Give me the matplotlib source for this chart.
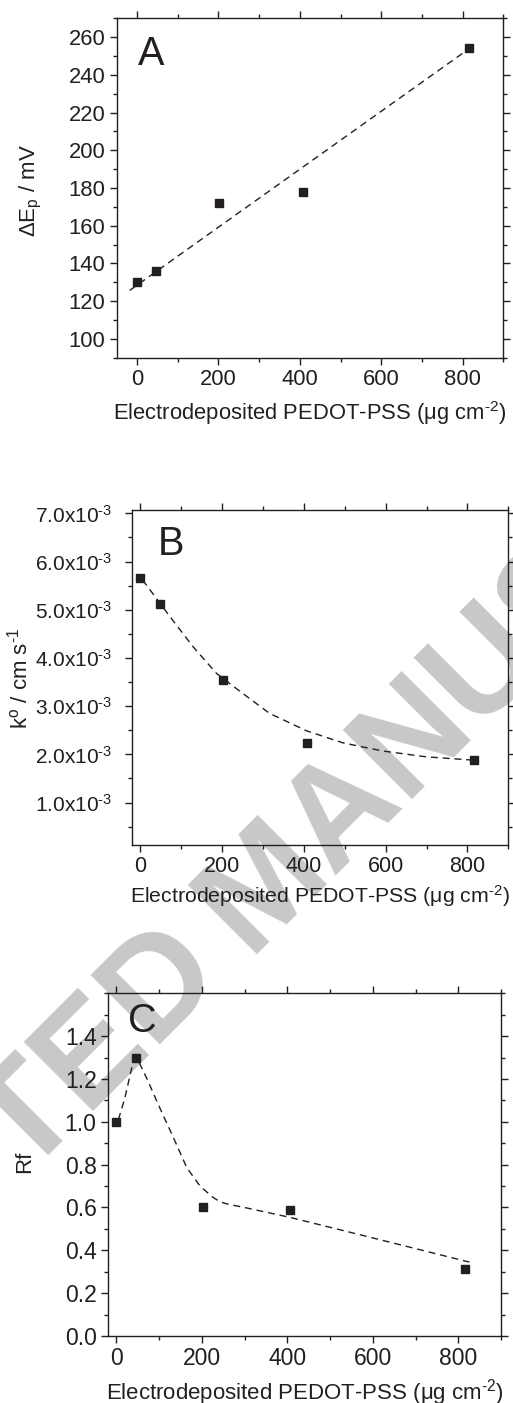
import matplotlib
matplotlib.use("Agg")
import matplotlib.pyplot as plt
from matplotlib.ticker import MultipleLocator, FuncFormatter

# PEDOT-PSS loading (ug cm-2)
loading = [0, 47, 202, 407, 815]

# peak separation (mV)
dEp = [130, 136, 172, 178, 254]
dEp_fit_x = [-18, 816]
dEp_fit_y = [125.7, 253.9]

# heterogeneous rate constant (cm s-1)
k0 = [5.66e-3, 5.12e-3, 3.55e-3, 2.23e-3, 1.88e-3]
k0_fit_x = [5, 28, 72, 129, 186, 251, 316, 406, 495, 593, 698, 815]
k0_fit_y = [5.62e-3, 5.36e-3, 4.86e-3, 4.23e-3, 3.68e-3, 3.26e-3, 2.85e-3,
            2.49e-3, 2.24e-3, 2.07e-3, 1.95e-3, 1.88e-3]

# roughness factor
rf = [1.00, 1.30, 0.60, 0.59, 0.315]
rf_fit_x = [5, 20, 36, 48, 72, 103, 134, 165, 196, 212, 226, 242, 260, 300,
            406, 600, 826]
rf_fit_y = [1.01, 1.11, 1.25, 1.30, 1.20, 1.06, 0.925, 0.786, 0.70, 0.672,
            0.648, 0.627, 0.616, 0.600, 0.554, 0.458, 0.345]

HY = "\u2010"  # plain hyphen for exponents
xlabel = f"Electrodeposited PEDOT-PSS (\u03bcg cm$^{{{HY}2}}$)"
INK = "#231f20"

plt.rcParams["font.family"] = ["Liberation Sans", "DejaVu Sans"]
plt.rcParams["mathtext.fontset"] = "custom"
plt.rcParams["mathtext.rm"] = "Liberation Sans"
plt.rcParams["mathtext.it"] = "Liberation Sans:italic"
plt.rcParams["mathtext.default"] = "regular"
plt.rcParams["text.color"] = INK

W, H = 513, 1403
fig = plt.figure(figsize=(W / 100, H / 100), dpi=100)


def add_panel(left, top, right, bottom, size):
    ax = fig.add_axes([left / W, 1 - bottom / H, (right - left) / W, (bottom - top) / H])
    ax.set_facecolor("none")
    for s in ax.spines.values():
        s.set_linewidth(1.0)
        s.set_color(INK)
    ax.tick_params(which="both", direction="out", top=True, right=True,
                   labeltop=False, labelright=False, colors=INK,
                   labelsize=size, width=1.0, pad=3)
    ax.tick_params(which="major", length=5)
    ax.tick_params(which="minor", length=2.8)
    return ax


def scatter_fit(ax, x, y, fx, fy):
    ax.plot(fx, fy, ls=(0, (5, 3.5)), lw=1.0, color=INK, zorder=2)
    ax.plot(x, y, ls="none", marker="s", ms=6.2, color=INK, zorder=3)


# A
axA = add_panel(116.7, 18.3, 503.3, 357.7, 15.8)
scatter_fit(axA, loading, dEp, dEp_fit_x, dEp_fit_y)
axA.set_xlim(-50, 900)
axA.set_ylim(90, 270)
axA.xaxis.set_major_locator(MultipleLocator(200))
axA.xaxis.set_minor_locator(MultipleLocator(100))
axA.set_yticks(range(100, 261, 20))
axA.yaxis.set_minor_locator(MultipleLocator(10))

# B
axB = add_panel(132.3, 510, 508.3, 845, 15.5)
scatter_fit(axB, loading, k0, k0_fit_x, k0_fit_y)
axB.set_xlim(-20, 900)
axB.set_ylim(0.12e-3, 7.07e-3)
axB.xaxis.set_major_locator(MultipleLocator(200))
axB.xaxis.set_minor_locator(MultipleLocator(100))
axB.yaxis.set_major_locator(MultipleLocator(1e-3))
axB.yaxis.set_minor_locator(MultipleLocator(0.5e-3))
axB.yaxis.set_major_formatter(
    FuncFormatter(lambda v, p: f"{v * 1e3:.1f}x10$^{{{HY}3}}$"))
axB.tick_params(axis="y", labelsize=15, pad=9.5)

# C
axC = add_panel(107.7, 993.3, 501, 1336, 16.5)
scatter_fit(axC, loading, rf, rf_fit_x, rf_fit_y)
axC.set_xlim(-20, 900)
axC.set_ylim(0, 1.6)
axC.xaxis.set_major_locator(MultipleLocator(200))
axC.xaxis.set_minor_locator(MultipleLocator(100))
axC.set_yticks([0, 0.2, 0.4, 0.6, 0.8, 1.0, 1.2, 1.4])
axC.yaxis.set_minor_locator(MultipleLocator(0.1))
axC.yaxis.set_major_formatter(FuncFormatter(lambda v, p: f"{v:.1f}"))


def ftext(x, y, s, **kw):
    return fig.text(x / W, 1 - y / H, s, **kw)


# axis titles
ftext(310, 420, xlabel, ha="center", va="baseline", fontsize=15.8)
ftext(320, 903, xlabel, ha="center", va="baseline", fontsize=15.3)
ftext(305, 1400, xlabel, ha="center", va="baseline", fontsize=16)
ftext(31, 190, "\u0394E$_p$ / mV", rotation=90, ha="center", va="center", fontsize=16)
ftext(20, 678, f"k$^o$ / cm s$^{{{HY}1}}$", rotation=90, ha="center", va="center",
      fontsize=16)
ftext(25, 1162, "Rf", rotation=90, ha="center", va="center", fontsize=16)

# panel letters
ftext(138, 65, "A", ha="left", va="baseline", fontsize=28.5)
ftext(158, 555, "B", ha="left", va="baseline", fontsize=28.5)
ftext(128, 1032, "C", ha="left", va="baseline", fontsize=28.5)

# manuscript stamp behind the panels, one word each side of the gap
stamp = dict(rotation=45, rotation_mode="anchor", va="baseline", fontsize=102,
             fontweight="bold", color="#c8c8c8", zorder=-1)
ftext(226, 976, "ACCEPTED", ha="right", **stamp)
ftext(248, 954, "MANUSCRIPT", ha="left", **stamp)

fig.savefig("out.png", dpi=100)
plt.close(fig)
